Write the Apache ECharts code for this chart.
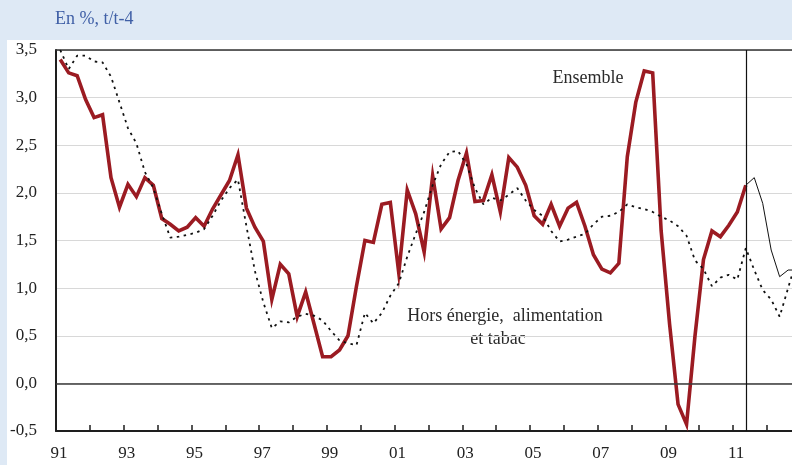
<!DOCTYPE html>
<html>
<head>
<meta charset="utf-8">
<script src="https://cdn.jsdelivr.net/npm/echarts@6/dist/echarts.min.js"></script>
<style>
html,body{margin:0;padding:0;background:#dee9f5;}
#c{width:792px;height:465px;}
</style>
</head>
<body>
<div id="c"></div>
<script>
// Quarterly data, first quarter = 1991 T1
const startYear = 1991;

// "Ensemble" (observed, thick red), 1991T1 .. 2011T2
const ensemble = [
  3.40, 3.26, 3.23, 2.98, 2.79, 2.82, 2.16, 1.85, 2.09, 1.96, 2.16, 2.08,
  1.73, 1.67, 1.60, 1.64, 1.74, 1.65, 1.83, 1.98, 2.13, 2.40, 1.84, 1.64,
  1.49, 0.88, 1.25, 1.15, 0.70, 0.96, 0.62, 0.28, 0.28, 0.35, 0.50, 1.02,
  1.50, 1.48, 1.88, 1.90, 1.16, 2.03, 1.78, 1.38, 2.18, 1.62, 1.74, 2.13,
  2.42, 1.91, 1.92, 2.19, 1.80, 2.37, 2.27, 2.08, 1.76, 1.67, 1.88, 1.65,
  1.84, 1.90, 1.65, 1.35, 1.20, 1.16, 1.26, 2.38, 2.95, 3.28, 3.26, 1.60,
  0.62, -0.22, -0.43, 0.50, 1.30, 1.60, 1.54, 1.66, 1.80, 2.08
];

// "Ensemble" forecast (thin black), starting at 2011T2
const forecastStartIndex = 81;
const ensembleForecast = [2.08, 2.16, 1.89, 1.40, 1.12, 1.19, 1.19];

// "Hors énergie, alimentation et tabac" (dotted), 1991T1 .. 2012T4
const horsEnergie = [
  3.50, 3.30, 3.44, 3.44, 3.38, 3.37, 3.22, 2.95, 2.68, 2.52, 2.22, 2.05,
  1.78, 1.53, 1.54, 1.56, 1.58, 1.62, 1.76, 1.92, 2.05, 2.14, 1.65, 1.18,
  0.85, 0.58, 0.65, 0.64, 0.70, 0.73, 0.71, 0.66, 0.55, 0.45, 0.42, 0.40,
  0.74, 0.63, 0.74, 0.92, 1.05, 1.33, 1.57, 1.80, 2.08, 2.30, 2.43, 2.44,
  2.30, 2.05, 1.88, 1.95, 1.92, 1.98, 2.05, 1.92, 1.82, 1.76, 1.60, 1.49,
  1.51, 1.54, 1.57, 1.67, 1.75, 1.76, 1.80, 1.88, 1.85, 1.83, 1.80, 1.75,
  1.71, 1.65, 1.55, 1.29, 1.20, 1.02, 1.11, 1.14, 1.09, 1.42, 1.19, 0.98,
  0.88, 0.70, 1.00, 1.30
];

const xTickYears  = [1991, 1993, 1995, 1997, 1999, 2001, 2003, 2005, 2007, 2009, 2011];
const xTickLabels = ['91', '93', '95', '97', '99', '01', '03', '05', '07', '09', '11'];
const yTickLabels = ['-0,5', '0,0', '0,5', '1,0', '1,5', '2,0', '2,5', '3,0', '3,5'];
const yMin = -0.5, yMax = 3.5, yStep = 0.5;

function quarterPos(i) { return startYear + (i + 0.5) / 4; }
function toPoints(vals, offset) { return vals.map((v, i) => [quarterPos(i + offset), v]); }

const FONT = 'Liberation Serif';
const chart = echarts.init(document.getElementById('c'), null, {renderer: 'canvas'});

chart.setOption({
  animation: false,
  backgroundColor: '#dee9f5',
  grid: {left: 56, right: 0, top: 50, bottom: 34, containLabel: false},
  graphic: [
    {type: 'rect', z: -100, silent: true, shape: {x: 7, y: 40, width: 785, height: 425}, style: {fill: '#ffffff'}},
    {type: 'text', left: 55, top: 10, style: {text: 'En %, t/t-4', fill: '#3f5fa6', font: '18px "' + FONT + '"'}},
    {type: 'text', x: 588, y: 78, style: {text: 'Ensemble', fill: '#2a2a2a', font: '18px "' + FONT + '"', textAlign: 'center', textVerticalAlign: 'middle'}},
    {type: 'text', x: 505, y: 316, style: {text: 'Hors énergie,  alimentation', fill: '#2a2a2a', font: '18px "' + FONT + '"', textAlign: 'center', textVerticalAlign: 'middle'}},
    {type: 'text', x: 498, y: 339, style: {text: 'et tabac', fill: '#2a2a2a', font: '18px "' + FONT + '"', textAlign: 'center', textVerticalAlign: 'middle'}}
  ],
  xAxis: [
    {
      type: 'value', min: 1991, max: 2012.74, interval: 1,
      axisLine: {show: true, onZero: false, lineStyle: {color: '#1e1e1e', width: 2}},
      axisTick: {show: true, inside: true, length: 6, lineStyle: {color: '#1e1e1e', width: 1.5}},
      splitLine: {show: false},
      axisLabel: {
        show: true, margin: 14, color: '#222', fontFamily: FONT, fontSize: 17,
        padding: [0, 0, 0, 6],
        showMaxLabel: false,
        formatter: function (v) { const k = xTickYears.indexOf(Math.round(v)); return (k >= 0 && Math.abs(v - Math.round(v)) < 1e-6) ? xTickLabels[k] : ''; }
      }
    },
    {
      type: 'value', position: 'top', min: 1991, max: 2012.74,
      axisLine: {show: true, onZero: false, lineStyle: {color: '#333', width: 1.5}},
      axisTick: {show: false}, axisLabel: {show: false}, splitLine: {show: false}
    }
  ],
  yAxis: {
    type: 'value', min: yMin, max: yMax, interval: yStep,
    axisLine: {show: true, onZero: false, lineStyle: {color: '#1e1e1e', width: 2}},
    axisTick: {show: false},
    splitLine: {show: true, lineStyle: {color: '#d8d8d8', width: 1}},
    axisLabel: {
      margin: 19, color: '#222', fontFamily: FONT, fontSize: 17,
      formatter: function (v) { return yTickLabels[Math.round((v - yMin) / yStep)]; }
    }
  },
  series: [
    {
      name: 'Ensemble', type: 'line', data: toPoints(ensemble, 0),
      symbol: 'none', z: 3,
      lineStyle: {color: '#9b1b22', width: 3.6, join: 'miter'},
      markLine: {
        silent: true, symbol: 'none', label: {show: false},
        data: [
          {yAxis: 0, lineStyle: {color: '#3a3a3a', width: 1.5, type: 'solid'}},
          {xAxis: quarterPos(forecastStartIndex), lineStyle: {color: '#111', width: 1.2, type: 'solid'}}
        ]
      }
    },
    {
      name: 'Ensemble prévision', type: 'line', data: toPoints(ensembleForecast, forecastStartIndex),
      symbol: 'none', z: 3,
      lineStyle: {color: '#111', width: 1}
    },
    {
      name: 'Hors énergie, alimentation et tabac', type: 'line', data: toPoints(horsEnergie, 0),
      symbol: 'none', z: 4,
      lineStyle: {color: '#111', width: 1.8, type: [2.5, 4.5]}
    }
  ]
});
</script>
</body>
</html>
